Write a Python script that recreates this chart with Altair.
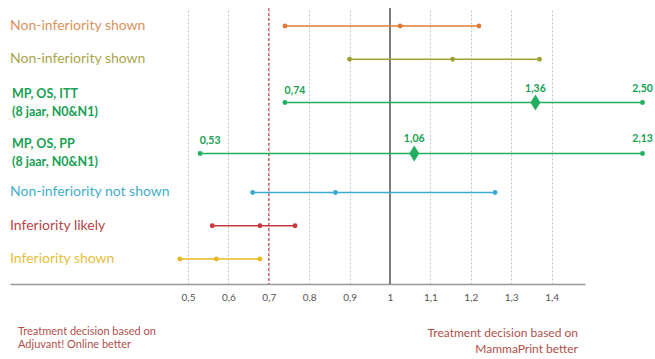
import altair as alt
import pandas as pd

# ---- data ----
row_ids = ["r1", "r2", "r3", "r4", "r5", "r6", "r7"]
row_labels = [
    "Non-inferiority shown",
    "Non-inferiority shown",
    "MP, OS, ITT\n(8 jaar, N0&N1)",
    "MP, OS, PP\n(8 jaar, N0&N1)",
    "Non-inferiority not shown",
    "Inferiority likely",
    "Inferiority shown",
]
row_slots = [1, 2, 3.3, 4.83, 6, 7, 8]
lo_vals = [0.74, 0.90, 0.74, 0.53, 0.66, 0.56, 0.48]
mid_vals = [1.025, 1.155, 1.36, 1.06, 0.865, 0.678, 0.57]
hi_vals = [1.22, 1.37, 2.50, 2.13, 1.26, 0.765, 0.678]
labelled_rows = ["r3", "r4"]
line_colors = ["#e07b35", "#9ea234", "#22b060", "#22b060", "#3aabcb", "#c8383c", "#e8b824"]
label_colors = ["#d9935e", "#a9a64e", "#1aa055", "#1aa055", "#45aec8", "#b5454a", "#e6c040"]
tick_values = [0.5, 0.6, 0.7, 0.8, 0.9, 1.0, 1.1, 1.2, 1.3, 1.4]
margin_line = [0.7]
null_line = [1.0]
axis_cap = 1.625  # values past the axis end are drawn at its truncated edge
note_left = ["Treatment decision based on", "Adjuvant! Online better"]
note_right = ["Treatment decision based on", "MammaPrint better"]

FONT = "Lato"

rows = pd.DataFrame({
    "id": row_ids, "label": row_labels, "slot": row_slots,
    "lo": lo_vals, "mid": mid_vals, "hi": hi_vals,
    "lcolor": label_colors,
})
rows["hi_draw"] = rows["hi"].clip(upper=axis_cap)
rows["bold"] = rows["id"].isin(labelled_rows)

pts = []
for _, r in rows.iterrows():
    for kind, v, vd in [("lo", r.lo, r.lo), ("mid", r.mid, r.mid), ("hi", r.hi, r.hi_draw)]:
        pts.append({"id": r.id, "slot": r.slot, "kind": kind, "value": v, "xd": vd,
                    "text": f"{v:.2f}".replace(".", ","),
                    "diamond": (kind == "mid") and (r.id in labelled_rows),
                    "labelled": r.id in labelled_rows})
pts = pd.DataFrame(pts)

xscale = alt.Scale(domain=[0.0594, 1.4827], nice=False, zero=False)
yscale = alt.Scale(domain=[0.46, 8.75], reverse=True, nice=False, zero=False)
cscale = alt.Scale(domain=row_ids, range=line_colors)

axis = alt.Axis(values=tick_values, grid=True, gridDash=[2, 2], gridColor="#c4c4c4",
                gridWidth=1, domainColor="#999999", domainWidth=1.5, ticks=False,
                labelColor="#555555", labelFontSize=10, labelFont=FONT, labelPadding=8,
                title=None, labelFlush=False,
                labelExpr="replace(format(datum.value, '.1~f'), '.', ',')")

base_axis = alt.Chart(pd.DataFrame({"v": tick_values})).mark_point(opacity=0).encode(
    x=alt.X("v:Q", scale=xscale, axis=axis)
)

red_rule = alt.Chart(pd.DataFrame({"v": margin_line})).mark_rule(
    color="#c0303a", strokeDash=[3, 2], strokeWidth=1
).encode(x=alt.X("v:Q", scale=xscale))

black_rule = alt.Chart(pd.DataFrame({"v": null_line})).mark_rule(
    color="#555555", strokeWidth=1.5
).encode(x=alt.X("v:Q", scale=xscale))

intervals = alt.Chart(rows).mark_rule(strokeWidth=1.5, clip=False).encode(
    x=alt.X("lo:Q", scale=xscale),
    x2="hi_draw:Q",
    y=alt.Y("slot:Q", scale=yscale, axis=None),
    color=alt.Color("id:N", scale=cscale, legend=None),
)

dots = alt.Chart(pts).transform_filter("!datum.diamond").mark_circle(
    size=24, opacity=1, clip=False
).encode(
    x=alt.X("xd:Q", scale=xscale),
    y=alt.Y("slot:Q", scale=yscale, axis=None),
    color=alt.Color("id:N", scale=cscale, legend=None),
)

diamonds = alt.Chart(pts).transform_filter("datum.diamond").mark_point(
    shape="M0,-1L0.62,0L0,1L-0.62,0Z", filled=True, size=260, opacity=1, clip=False
).encode(
    x=alt.X("xd:Q", scale=xscale),
    y=alt.Y("slot:Q", scale=yscale, axis=None),
    color=alt.Color("id:N", scale=cscale, legend=None),
)

val_lo = alt.Chart(pts).transform_filter("datum.labelled && datum.kind == 'lo'").mark_text(
    font=FONT, fontSize=10.5, fontWeight="bold", color="#1aa055", dy=-12, dx=10, clip=False
).encode(x=alt.X("xd:Q", scale=xscale), y=alt.Y("slot:Q", scale=yscale, axis=None), text="text:N")

val_other = alt.Chart(pts).transform_filter("datum.labelled && datum.kind != 'lo'").mark_text(
    font=FONT, fontSize=10.5, fontWeight="bold", color="#1aa055", dy=-14, clip=False
).encode(x=alt.X("xd:Q", scale=xscale), y=alt.Y("slot:Q", scale=yscale, axis=None), text="text:N")

labels_reg = alt.Chart(rows).transform_filter("!datum.bold").mark_text(
    font=FONT, fontSize=14, align="left", baseline="middle", clip=False
).encode(
    x=alt.value(0), y=alt.Y("slot:Q", scale=yscale, axis=None),
    text="label:N", color=alt.Color("lcolor:N", scale=None),
)

labels_bold = alt.Chart(rows).transform_filter("datum.bold").mark_text(
    font=FONT, fontSize=12.5, fontWeight="bold", align="left", baseline="middle",
    lineBreak="\n", lineHeight=18, dy=-9, clip=False
).encode(
    x=alt.value(2), y=alt.Y("slot:Q", scale=yscale, axis=None),
    text="label:N", color=alt.Color("lcolor:N", scale=None),
)

note_l = alt.Chart(pd.DataFrame({"t": ["\n".join(note_left)]})).mark_text(
    font=FONT, fontSize=11, color="#b0504c", align="left", baseline="top",
    lineBreak="\n", lineHeight=13, clip=False
).encode(x=alt.value(8), y=alt.value(318), text="t:N")

note_r = alt.Chart(pd.DataFrame({"t": ["\n".join(note_right)]})).mark_text(
    font=FONT, fontSize=12, color="#b0504c", align="right", baseline="top",
    lineBreak="\n", lineHeight=16, clip=False
).encode(x=alt.value(568), y=alt.value(320), text="t:N")

chart = alt.layer(
    base_axis, red_rule, black_rule, intervals, dots, diamonds,
    val_lo, val_other, labels_reg, labels_bold, note_l, note_r
).properties(
    width=575, height=276,
    autosize=alt.AutoSizeParams(type="none"),
    padding={"left": 10, "top": 8, "right": 70, "bottom": 75},
    background="white",
).configure_view(stroke=None)

chart.save("out.html", embed_options={"renderer": "svg", "actions": False})
